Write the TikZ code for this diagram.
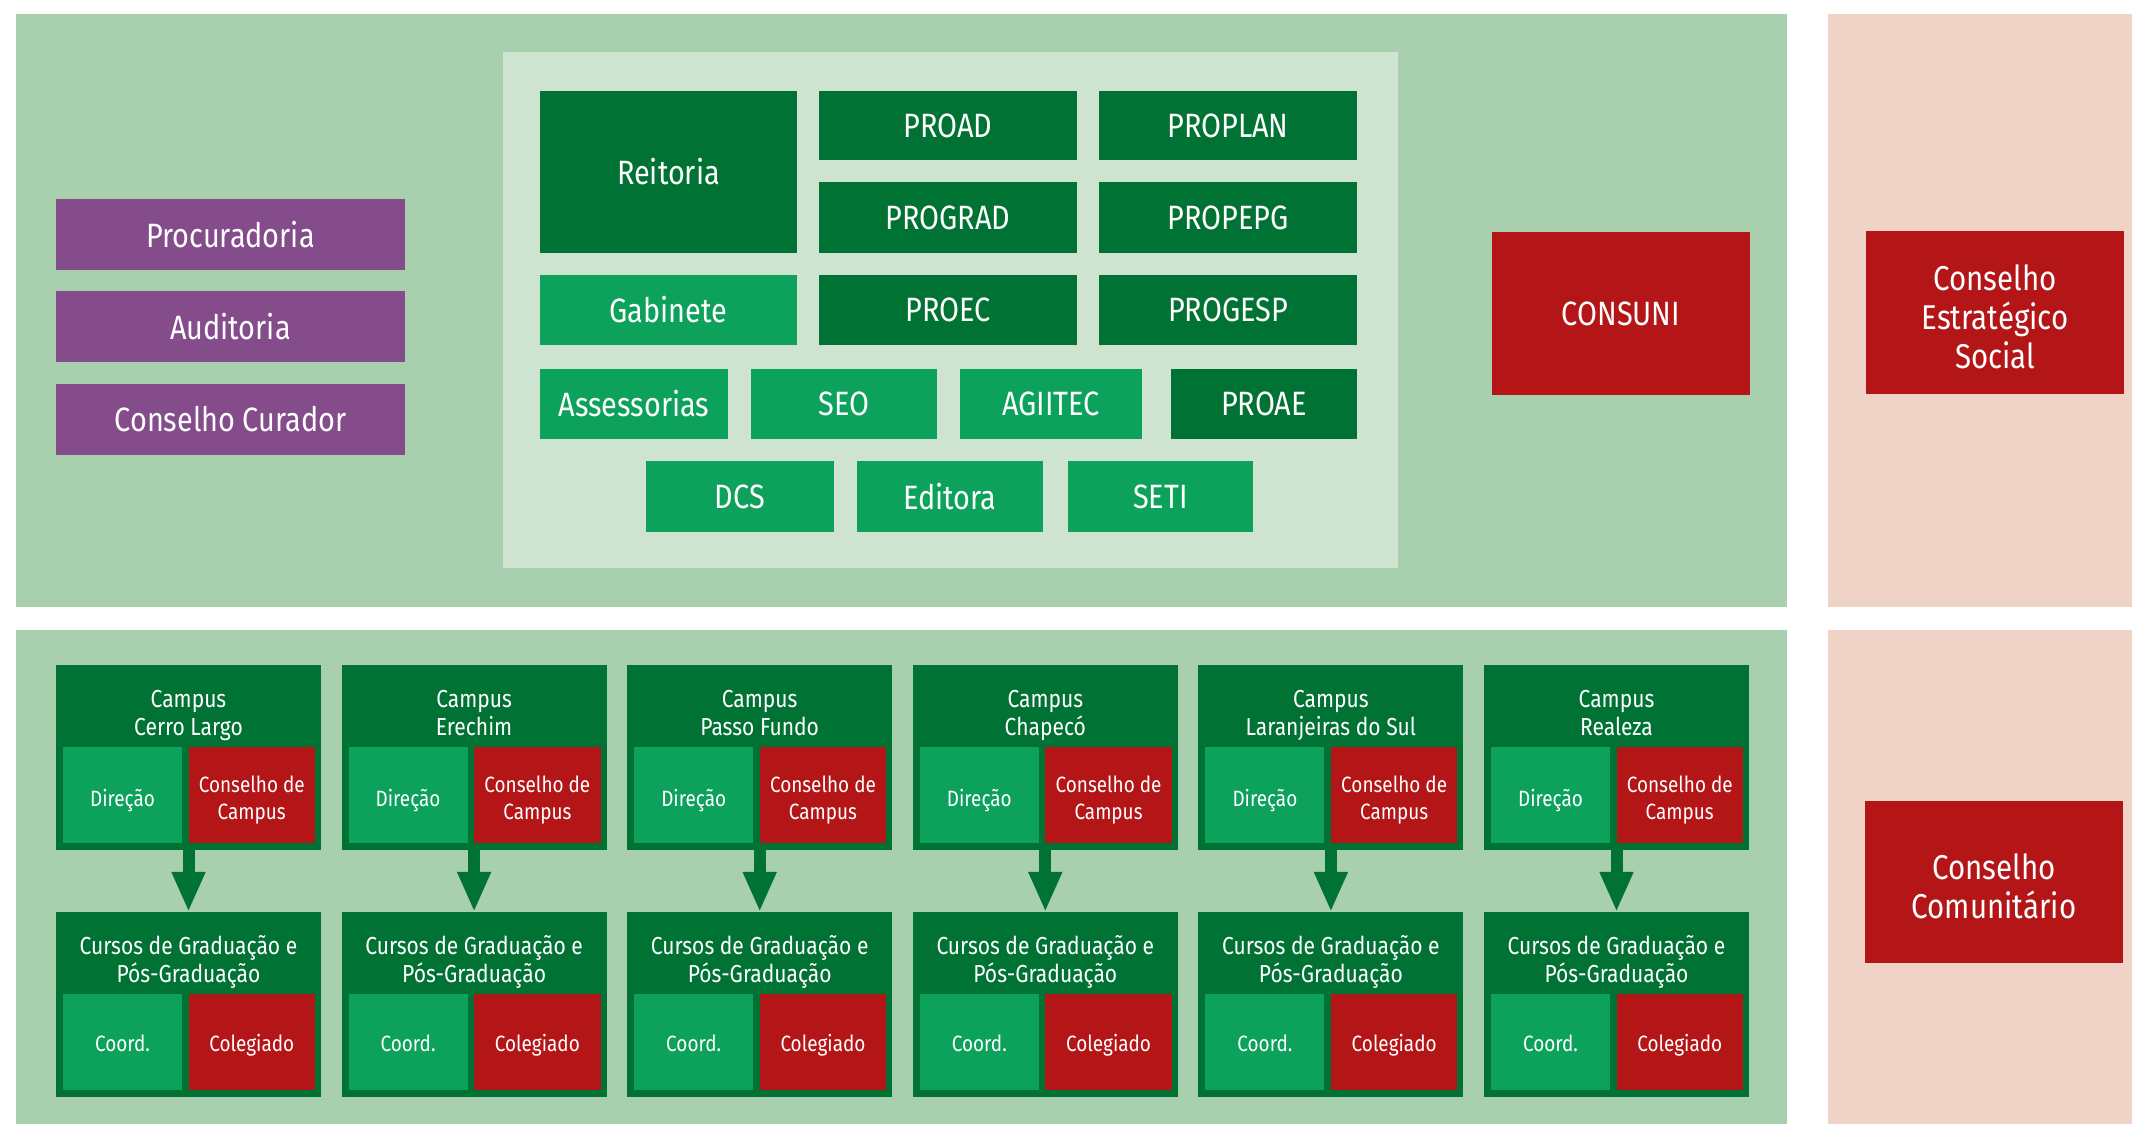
\documentclass[tikz,border=0pt]{standalone}
\usepackage{fontspec}
\setmainfont[FakeStretch=0.855]{Fira Sans}
\usepackage{tikz}
\usetikzlibrary{positioning,arrows.meta}

\definecolor{painelverde}{RGB}{168,208,174}
\definecolor{painelclaro}{RGB}{207,227,209}
\definecolor{painelrosa}{RGB}{239,211,198}
\definecolor{verdeescuro}{RGB}{0,114,51}
\definecolor{verdemedio}{RGB}{12,162,92}
\definecolor{vermelho}{RGB}{180,21,23}
\definecolor{roxo}{RGB}{133,76,139}

% uma linha de altura fixa
\newcommand{\linha}[1]{\strut\smash{#1}}

\begin{document}
\begin{tikzpicture}[inner sep=0pt,outer sep=0pt]
\tikzset{>={Triangle[width=0.31cm,length=0.40cm]}}
\tikzset{
  tam/.style 2 args={minimum width=#1cm,minimum height=#2cm},
  caixa/.style={anchor=north west,text=white,align=center,
    font=\fontsize{9.6}{11}\selectfont},
  escuro/.style={caixa,fill=verdeescuro},
  medio/.style={caixa,fill=verdemedio},
  conselho/.style={caixa,fill=vermelho},
  apoio/.style={caixa,fill=roxo},
  externo/.style={text=white,align=center,yshift=-0.09cm,
    font=\fontsize{9.8}{11.1}\selectfont},
  titulo/.style={text=white,align=center,font=\fontsize{7}{8}\selectfont},
  miuda/.style={text=white,align=center,yshift=-0.06cm,
    font=\fontsize{6.3}{7.7}\selectfont},
  seta/.style={->,draw=verdeescuro,line width=0.12cm}
}
\useasboundingbox (0,0) rectangle (21.32,-11.24);

% fundos
\fill[painelverde] (0.16,-0.14) rectangle (17.87,-6.07);
\fill[painelverde] (0.16,-6.30) rectangle (17.87,-11.24);
\fill[painelrosa] (18.28,-0.14) rectangle (21.32,-6.07);
\fill[painelrosa] (18.28,-6.30) rectangle (21.32,-11.24);
\fill[painelclaro] (5.03,-0.52) rectangle (13.98,-5.68);

% administracao superior
\node[escuro,tam={2.57}{1.62}] (reitoria) at (5.40,-0.91) {Reitoria};
\node[escuro,tam={2.58}{0.69}] (proad) at (8.19,-0.91) {PROAD};
\node[escuro,tam={2.58}{0.69},right=0.22cm of proad] (proplan) {PROPLAN};
\node[escuro,tam={2.58}{0.71}] (prograd) at (8.19,-1.82) {PROGRAD};
\node[escuro,tam={2.58}{0.71},right=0.22cm of prograd] (propepg) {PROPEPG};
\node[medio,tam={2.57}{0.70}] (gabinete) at (5.40,-2.75) {Gabinete};
\node[escuro,tam={2.58}{0.70},right=0.22cm of gabinete] (proec) {PROEC};
\node[escuro,tam={2.58}{0.70},right=0.22cm of proec] (progesp) {PROGESP};
\node[medio,tam={1.88}{0.70}] (assessorias) at (5.40,-3.69) {Assessorias};
\node[medio,tam={1.86}{0.70},right=0.23cm of assessorias] (seo) {SEO};
\node[medio,tam={1.82}{0.70},right=0.23cm of seo] (agiitec) {AGIITEC};
\node[escuro,tam={1.86}{0.70},right=0.29cm of agiitec] (proae) {PROAE};
\node[medio,tam={1.88}{0.71}] (dcs) at (6.46,-4.61) {DCS};
\node[medio,tam={1.86}{0.71},right=0.23cm of dcs] (editora) {Editora};
\node[medio,tam={1.85}{0.71},right=0.25cm of editora] (seti) {SETI};

% orgaos de apoio
\node[apoio,tam={3.49}{0.71}] (procuradoria) at (0.56,-1.99) {Procuradoria};
\node[apoio,tam={3.49}{0.71},below=0.21cm of procuradoria] (auditoria) {Auditoria};
\node[apoio,tam={3.49}{0.71},below=0.22cm of auditoria] (curador) {Conselho Curador};

% conselhos
\node[conselho,tam={2.58}{1.63}] (consuni) at (14.92,-2.32) {CONSUNI};
\node[conselho,tam={2.58}{1.63},
  label={[externo]center:\linha{Conselho}\\\linha{Estratégico}\\\linha{Social}}]
  (estrategico) at (18.66,-2.31) {};
\node[conselho,tam={2.58}{1.62},
  label={[externo]center:\linha{Conselho}\\\linha{Comunitário}}]
  (comunitario) at (18.65,-8.01) {};

% campi
\foreach \nome [count=\i from 0] in {Cerro Largo,Erechim,Passo Fundo,Chapecó,Laranjeiras do Sul,Realeza} {
  \pgfmathsetmacro\xc{0.56+2.856*\i}
  \node[escuro,tam={2.65}{1.85}] (campus\i) at (\xc,-6.65) {};
  \node[titulo] (tcampus\i) at ([yshift=-0.51cm]campus\i.north) {\linha{Campus}\\\linha{\nome}};
  \node[medio,anchor=south west,tam={1.19}{0.96},
    label={[miuda]center:\linha{Direção}}] (direcao\i)
    at ([xshift=0.07cm,yshift=0.07cm]campus\i.south west) {};
  \node[conselho,anchor=south east,tam={1.265}{0.96},
    label={[miuda]center:\linha{Conselho de}\\\linha{Campus}}] (ccampus\i)
    at ([xshift=-0.06cm,yshift=0.07cm]campus\i.south east) {};
  \node[escuro,tam={2.65}{1.85},below=0.62cm of campus\i] (cursos\i) {};
  \node[titulo] (tcursos\i) at ([yshift=-0.51cm]cursos\i.north) {\linha{Cursos de Graduação e}\\\linha{Pós-Graduação}};
  \node[medio,anchor=south west,tam={1.19}{0.96},
    label={[miuda,yshift=0.02cm]center:\linha{Coord.}}] (coord\i)
    at ([xshift=0.07cm,yshift=0.07cm]cursos\i.south west) {};
  \node[conselho,anchor=south east,tam={1.265}{0.96},
    label={[miuda,yshift=0.02cm]center:\linha{Colegiado}}] (colegiado\i)
    at ([xshift=-0.06cm,yshift=0.07cm]cursos\i.south east) {};
  \draw[seta] (campus\i) -- (cursos\i);
}
\end{tikzpicture}
\end{document}
